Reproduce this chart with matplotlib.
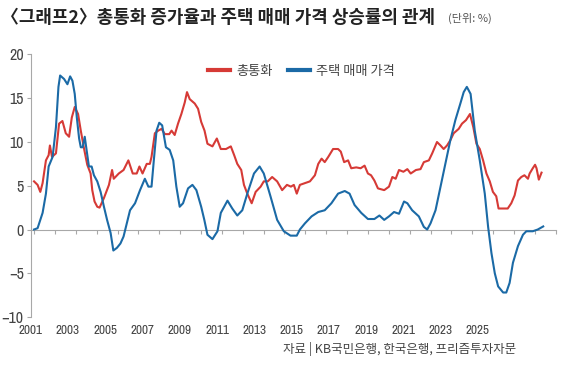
import matplotlib
matplotlib.use("Agg")
import matplotlib.pyplot as plt
from matplotlib.ticker import MultipleLocator

# money supply (M2) growth, % yoy  -- decimal year / value
m2_t = [2001.0, 2001.17, 2001.3, 2001.41, 2001.57, 2001.7, 2001.76, 2001.86, 2002.05, 2002.2,
        2002.36, 2002.52, 2002.68, 2002.81, 2002.95, 2003.11, 2003.24, 2003.4, 2003.55, 2003.71,
        2003.79, 2003.9, 2004.03, 2004.14, 2004.35, 2004.59, 2004.74, 2004.82, 2005.06, 2005.29,
        2005.52, 2005.73, 2005.92, 2006.05, 2006.2, 2006.4, 2006.55, 2006.63, 2006.79, 2006.95,
        2007.11, 2007.27, 2007.48, 2007.59, 2007.74, 2007.9, 2008.06, 2008.22, 2008.33, 2008.46,
        2008.7, 2008.86, 2009.01, 2009.17, 2009.31, 2009.55, 2009.76, 2009.95, 2010.2, 2010.43,
        2010.59, 2010.74, 2010.93, 2011.06, 2011.22, 2011.43, 2011.62, 2011.86, 2012.01, 2012.2,
        2012.41, 2012.65, 2012.89, 2013.12, 2013.31, 2013.45, 2013.59, 2013.74, 2013.98, 2014.22,
        2014.46, 2014.62, 2014.78, 2014.93, 2015.1, 2015.33, 2015.57, 2015.7, 2015.86, 2016.05,
        2016.2, 2016.44, 2016.65, 2016.84, 2017.0, 2017.15, 2017.31, 2017.48, 2017.78, 2018.01,
        2018.17, 2018.33, 2018.49, 2018.7, 2018.89, 2019.05, 2019.3, 2019.52, 2019.68, 2019.92,
        2020.08, 2020.31, 2020.48, 2020.63, 2020.79, 2020.95, 2021.11, 2021.35, 2021.51, 2021.7,
        2021.89, 2022.05, 2022.2, 2022.36, 2022.52, 2022.68, 2022.84, 2022.99, 2023.15, 2023.26,
        2023.5, 2023.7, 2023.87, 2024.03, 2024.19, 2024.35, 2024.5, 2024.67, 2024.75, 2024.9,
        2025.01, 2025.08, 2025.19, 2025.32]
m2_v = [5.5, 5.1, 4.3, 5.3, 7.9, 8.5, 9.6, 8.3, 8.7, 12.1,
        12.4, 11.0, 10.6, 12.8, 14.0, 13.2, 11.3, 9.2, 7.4, 6.4,
        4.5, 3.2, 2.6, 2.5, 3.6, 5.1, 6.8, 5.8, 6.4, 6.8,
        7.9, 6.4, 6.4, 7.2, 6.4, 7.5, 7.5, 8.3, 11.0, 11.3,
        11.5, 10.9, 10.9, 11.3, 10.8, 12.1, 13.2, 14.5, 15.7, 14.9,
        14.4, 13.8, 12.3, 11.3, 9.8, 9.5, 10.4, 9.2, 9.2, 9.5,
        8.5, 7.5, 6.8, 5.1, 4.1, 3.0, 4.3, 4.9, 5.5, 5.5,
        6.0, 5.5, 4.5, 5.1, 4.9, 5.1, 4.1, 5.1, 5.3, 5.5,
        6.2, 7.5, 8.1, 7.7, 8.3, 9.2, 9.2, 8.9, 7.7, 7.9,
        7.0, 7.1, 7.0, 7.3, 6.4, 6.2, 5.6, 4.7, 4.5, 4.9,
        6.0, 5.8, 6.8, 6.6, 6.9, 6.4, 6.8, 6.9, 7.7, 7.9,
        8.7, 10.0, 9.6, 9.2, 9.6, 10.2, 11.0, 11.5, 12.1, 12.5,
        13.2, 11.7, 9.8, 9.2, 7.9, 6.4, 5.5, 4.3, 3.8, 2.4,
        2.4, 2.4, 3.0, 3.9, 5.6, 6.0, 6.2, 5.8, 6.4, 7.0,
        7.4, 7.0, 5.7, 6.5]

# house sale price growth, % yoy
hp_t = [2001.0, 2001.17, 2001.41, 2001.57, 2001.7, 2001.89, 2002.05, 2002.17, 2002.25, 2002.44,
        2002.6, 2002.73, 2002.84, 2002.95, 2003.05, 2003.16, 2003.24, 2003.33, 2003.43, 2003.5,
        2003.63, 2003.76, 2003.87, 2004.03, 2004.19, 2004.35, 2004.5, 2004.67, 2004.8, 2004.97,
        2005.14, 2005.29, 2005.6, 2005.84, 2006.08, 2006.31, 2006.48, 2006.63, 2006.74, 2006.87,
        2007.0, 2007.14, 2007.32, 2007.5, 2007.67, 2007.82, 2007.98, 2008.14, 2008.38, 2008.59,
        2008.78, 2009.01, 2009.16, 2009.31, 2009.55, 2009.79, 2009.95, 2010.27, 2010.5, 2010.74,
        2010.98, 2011.22, 2011.54, 2011.81, 2012.01, 2012.33, 2012.65, 2012.97, 2013.29, 2013.59,
        2013.74, 2013.98, 2014.3, 2014.62, 2014.93, 2015.25, 2015.57, 2015.89, 2016.12, 2016.36,
        2016.68, 2017.0, 2017.31, 2017.55, 2017.78, 2018.01, 2018.25, 2018.49, 2018.73, 2018.89,
        2019.12, 2019.44, 2019.68, 2019.84, 2020.0, 2020.24, 2020.48, 2020.71, 2020.95, 2021.19,
        2021.43, 2021.59, 2021.74, 2021.92, 2022.12, 2022.36, 2022.6, 2022.76, 2022.92, 2023.08,
        2023.24, 2023.48, 2023.63, 2023.79, 2023.95, 2024.19, 2024.43, 2024.59, 2024.9, 2025.14,
        2025.4]
hp_v = [0.0, 0.15, 1.9, 4.1, 7.2, 8.3, 11.7, 16.3, 17.6, 17.2,
        16.6, 17.5, 17.0, 15.5, 12.8, 10.4, 9.4, 9.4, 10.6, 9.4,
        7.2, 7.2, 6.2, 5.5, 4.3, 2.6, 1.1, -0.4, -2.4, -2.1,
        -1.6, -0.8, 2.2, 3.0, 4.5, 5.8, 4.9, 4.9, 7.9, 11.3,
        12.2, 11.9, 9.4, 9.1, 7.9, 4.9, 2.6, 3.0, 4.7, 5.1,
        4.5, 2.6, 1.1, -0.6, -1.1, -0.2, 1.9, 3.3, 2.4, 1.6,
        2.2, 4.1, 6.4, 7.2, 6.4, 3.8, 1.1, -0.2, -0.7, -0.7,
        0.0, 0.7, 1.5, 2.0, 2.2, 3.0, 4.1, 4.4, 4.1, 2.8,
        1.9, 1.2, 1.2, 1.6, 1.1, 1.5, 2.0, 1.8, 3.2, 3.0,
        2.2, 1.5, 0.3, 0.0, 0.7, 2.2, 4.9, 7.5, 10.2, 12.5,
        14.4, 15.7, 16.3, 15.5, 11.3, 7.9, 4.1, 0.3, -2.7, -5.0,
        -6.5, -7.2, -7.2, -6.1, -3.8, -1.9, -0.6, -0.2, -0.2, 0.0,
        0.35]

series_names = ["총통화", "주택 매매 가격"]
year_labels = [str(y) for y in range(2001, 2026, 2)]
y_ticks = [20, 15, 10, 5, 0, -5, -10]

RED = "#d63a36"
BLUE = "#1b6aa6"
GRID = "#a8a8a8"
TXT = "#444444"
NUM_FONT = ["Archivo Narrow", "DejaVu Sans"]
KR_FONT = ["Noto Sans CJK KR", "DejaVu Sans"]

fig = plt.figure(figsize=(5.76, 3.67), dpi=100)
ax = fig.add_axes([0.0533, 0.1362, 0.9115, 0.7153])

ax.plot(m2_t, m2_v, color=RED, lw=1.5, label=series_names[0], zorder=3)
ax.plot(hp_t, hp_v, color=BLUE, lw=1.5, label=series_names[1], zorder=4)

ax.set_xlim(2001, 2026)
ax.set_ylim(-10, 20)

for s in ["top", "right"]:
    ax.spines[s].set_visible(False)
ax.spines["left"].set_color(GRID)
ax.spines["left"].set_linewidth(0.8)
ax.spines["bottom"].set_position(("data", 0))
ax.spines["bottom"].set_color(GRID)
ax.spines["bottom"].set_linewidth(0.8)

ax.set_yticks(y_ticks)
ax.set_yticklabels([str(v).replace("-", "\u2212") for v in y_ticks],
                   fontfamily=NUM_FONT, fontsize=11.5, color=TXT)
ax.tick_params(axis="y", length=3, width=0.8, color=GRID, pad=2)

# yearly ticks sit on the zero line; year labels are spaced a bit tighter below the plot
ax.xaxis.set_minor_locator(MultipleLocator(1))
ax.tick_params(axis="x", which="minor", length=3, width=0.8, color=GRID)
label_step = 37.5 / 21
label_pos = [2001 - 0.16 + i * label_step for i in range(len(year_labels))]
ax.set_xticks(label_pos)
ax.set_xticklabels(year_labels, fontfamily=NUM_FONT, fontsize=9.5, color=TXT)
ax.tick_params(axis="x", which="major", length=0, pad=69)

leg = ax.legend(loc="upper left", bbox_to_anchor=(0.316, 1.005), ncol=2, frameon=False,
                prop={"family": KR_FONT, "size": 9.5}, handlelength=1.6, handletextpad=0.5,
                columnspacing=1.2)
for t in leg.get_texts():
    t.set_color(TXT)
for h in leg.legend_handles:
    h.set_linewidth(3)

fig.text(0.002, 1 - 18 / 367, "〈그래프2〉총통화 증가율과 주택 매매 가격 상승률의 관계",
         fontfamily=KR_FONT, fontsize=12.9, fontweight="bold", color="#222222", va="center")
fig.text(448 / 576, 1 - 18 / 367, "(단위: %)", fontfamily=KR_FONT, fontsize=8,
         color="#555555", va="center")
fig.text(516 / 576, 1 - 349 / 367, "자료 | KB국민은행, 한국은행, 프리즘투자자문",
         fontfamily=KR_FONT, fontsize=9, color=TXT, va="center", ha="right")

fig.savefig("out.png", dpi=100)
